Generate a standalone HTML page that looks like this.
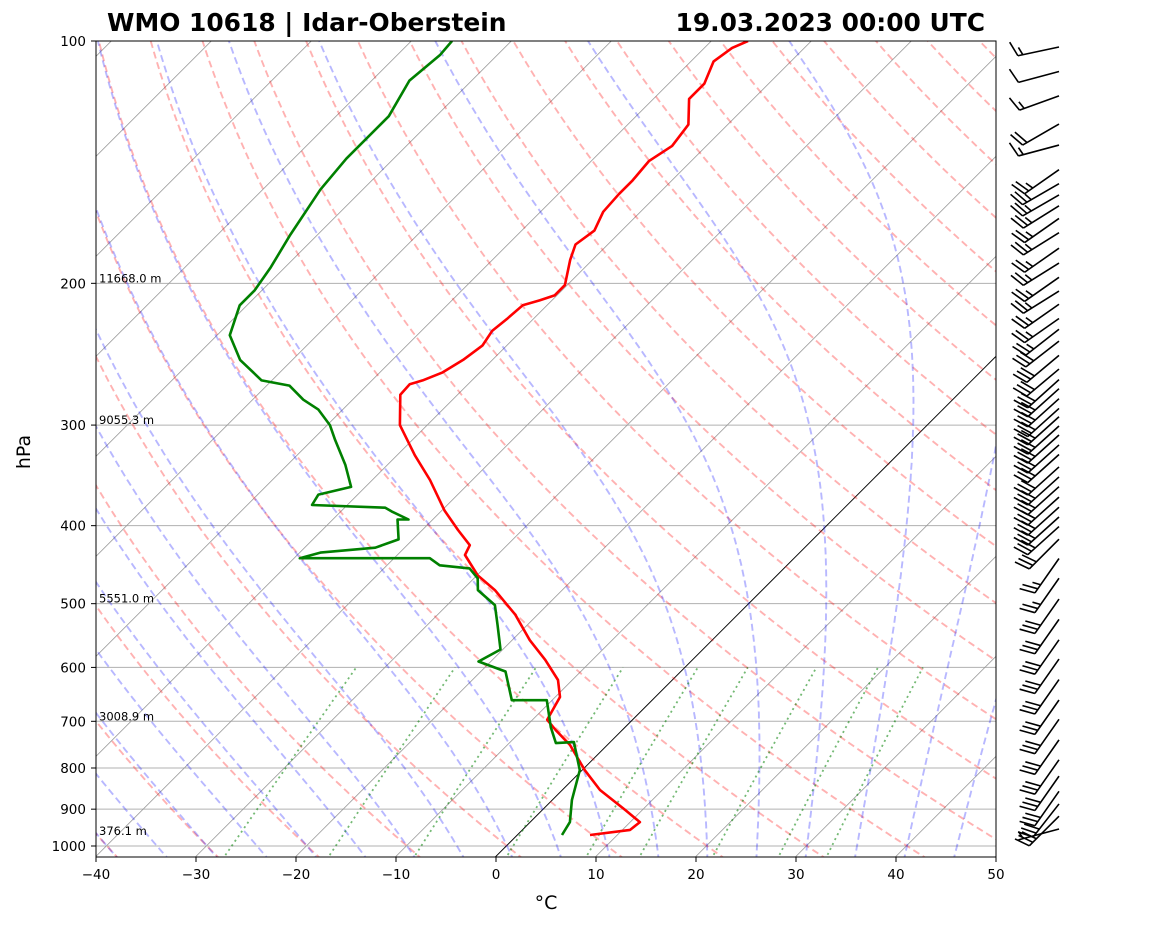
<!DOCTYPE html>
<html><head><meta charset="utf-8"><style>
body{margin:0;background:#fff}
svg text{font-family:"DejaVu Sans","Liberation Sans",sans-serif}
</style></head><body>
<svg id="chart" width="1160" height="925" viewBox="0 0 1160 925" xmlns="http://www.w3.org/2000/svg">
<defs><clipPath id="plotclip"><rect x="96" y="41" width="900" height="816"/></clipPath></defs>
<rect width="1160" height="925" fill="#fff"/>
<text x="107" y="31" font-size="24.9" font-weight="bold">WMO 10618 | Idar-Oberstein</text>
<text x="985" y="31" font-size="24.9" font-weight="bold" text-anchor="end">19.03.2023 00:00 UTC</text>
<g id="bg" clip-path="url(#plotclip)"></g>
<g id="prof" clip-path="url(#plotclip)"></g>
<g id="axes"></g>
<g id="barbs"></g>
<text transform="translate(30,452) rotate(-90)" font-size="19" text-anchor="middle">hPa</text>
<text x="546" y="909" font-size="19" text-anchor="middle">°C</text>
</svg>
<script>
const tempP=[969,955,934,902,852,805,749,718,697,653,622,587,555,516,481,461,435,423,405,383,351,327,300,275,267,264,258,249,239,229,221,213,210,207,201,187,179,172,163,155,149,141,135,127,118,113,106,102,100];
const tempT=[7.2,10.7,10.9,8.2,3.7,0.2,-3.8,-6.7,-8.6,-9.6,-11.5,-14.8,-18.3,-22.3,-26.8,-30,-33.3,-33.8,-36.5,-39.8,-44.3,-48.3,-52.8,-55.8,-55.9,-55,-53.8,-53,-52.5,-53,-52.7,-52.5,-51.3,-50.3,-50.3,-52.3,-53.3,-52.8,-53.8,-54,-54,-54.3,-53.5,-54,-56.5,-56.5,-57.8,-57.3,-56.4];
const dewP=[969,934,877,805,743,745,712,659,659,607,590,570,532,502,481,465,452,448,439,439,432,426,416,393,393,384,380,377,366,358,336,313,300,287,279,268,264,249,232,213,204,191,174,153,140,133,124,112,104,100];
const dewT=[4.4,3.9,1.9,-0.3,-3.7,-5.4,-7.5,-10.6,-14.1,-17.6,-21.3,-20.3,-23,-25.3,-28.5,-29.7,-31.5,-34.8,-36.5,-49.5,-48,-43,-41.5,-43.6,-42.5,-45,-46,-53.6,-54,-51.5,-54.3,-57.8,-59.8,-62.5,-65,-67.8,-71.1,-75.3,-78.8,-80.8,-80.8,-81.5,-82.8,-84.3,-84.8,-84.8,-84.8,-86.3,-85.8,-86];
const barbP=[103.5,111,119,129,137,147,153,158,163,169,176,184,192,200,208,216,225,232,240,250,260,268,275,283,291,298,306,314,323,332,344,354,364,375,386,397,408,423,447,473,502,532,564,596,632,670,708,751,795,833,870,902,934,969];
const barbDir=[258,255,250,240,255,235,240,240,238,235,238,235,238,235,238,235,235,232,232,230,230,228,228,228,228,228,228,228,228,228,228,228,228,228,228,228,228,225,215,215,215,215,215,215,215,215,215,215,215,215,215,218,225,255];
const barbSpd=[15,10,15,20,15,25,25,25,25,25,25,25,25,25,25,25,25,25,30,30,30,30,30,30,30,30,30,30,30,30,30,30,30,30,30,30,30,30,25,25,30,30,30,30,30,30,30,30,30,30,30,30,30,5];
const pressTicks=[100,200,300,400,500,600,700,800,900,1000];
const tempTicks=[-40,-30,-20,-10,0,10,20,30,40,50];
const hgtP=[200,300,500,700,969];
const hgtLbl=["11668.0 m","9055.3 m","5551.0 m","3008.9 m","376.1 m"];
const dryTheta=[-40,-30,-20,-10,0,10,20,30,40,50,60,70,80,90,100,110,120,130,140,150,160,170,180,190,200,210,220,230,240,250];
const moistT0=[-40,-35,-30,-25,-20,-15,-10,-5,0,5,10,15,20,25,30,35,40,45];
const mixW=[0.0004,0.001,0.002,0.004,0.007,0.01,0.016,0.024,0.032];
const isoT=[-150,-140,-130,-120,-110,-100,-90,-80,-70,-60,-50,-40,-30,-20,-10,10,20,30,40,50];

const NS='http://www.w3.org/2000/svg';
const yOf=p=>41+805*Math.log10(p/100);
const xOf=(T,p)=>96+10*(T+40)+(857-yOf(p));
function mk(tag,attrs,parent){const e=document.createElementNS(NS,tag);for(const k in attrs)e.setAttribute(k,attrs[k]);parent.appendChild(e);return e;}
function pathD(Ts,Ps){return Ts.map((t,i)=>(i?'L':'M')+xOf(t,Ps[i]).toFixed(1)+','+yOf(Ps[i]).toFixed(1)).join('');}
const bg=document.getElementById('bg'),prof=document.getElementById('prof'),ax=document.getElementById('axes'),bb=document.getElementById('barbs');

pressTicks.forEach(p=>{const l=mk('line',{x1:96,x2:996,y1:yOf(p),y2:yOf(p),stroke:'#b0b0b0','stroke-width':1},bg);

});
isoT.forEach(t=>{const l=mk('line',{x1:xOf(t,1034),y1:857,x2:xOf(t,1034)+1000,y2:-143,stroke:'#999','stroke-width':0.8},bg);

});
{const l=mk('line',{x1:xOf(0,1034),y1:857,x2:xOf(0,1034)+1000,y2:-143,stroke:'#000','stroke-width':0.9},bg);

}
const plev=[];for(let p=1040;p>=95;p-=5)plev.push(p);
dryTheta.forEach(th=>{const Ts=plev.map(p=>(th+273.15)*Math.pow(p/1000,0.2857)-273.15);
const e=mk('path',{d:pathD(Ts,plev),fill:'none',stroke:'rgba(255,0,0,0.3)','stroke-width':1.9,'stroke-dasharray':'7,4'},bg);

});
function es(tc){return 6.112*Math.exp(17.67*tc/(tc+243.5));}
function dTdp(T,p){const e=es(T-273.15);const rs=0.622*e/(p-e);return (287.04*T+2.501e6*rs)/(p*(1005.7+2.501e6*2.501e6*rs*0.622/(287.04*T*T)));}
function integ(T0,p0,p1,dp){const P=[p0],T=[T0];let T_=T0,p=p0;while((dp<0&&p>p1)||(dp>0&&p<p1)){const k1=dTdp(T_,p);const k2=dTdp(T_+k1*dp,p+dp);T_+=0.5*(k1+k2)*dp;p+=dp;P.push(p);T.push(T_);}return [T,P];}
moistT0.forEach(t0=>{const up=integ(t0+273.15,1000,95,-5),dn=integ(t0+273.15,1000,1045,5);
const Ps=dn[1].slice(1).reverse().concat(up[1]);const Ts=dn[0].slice(1).reverse().concat(up[0]).map(t=>t-273.15);
const e=mk('path',{d:pathD(Ts,Ps),fill:'none',stroke:'rgba(0,0,255,0.28)','stroke-width':1.9,'stroke-dasharray':'7,4'},bg);

});
const mlev=[];for(let p=1040;p>=600;p-=10)mlev.push(p);
mixW.forEach(w=>{const Ts=mlev.map(p=>{const e=w*p/(0.622+w);const l=Math.log(e/6.112);return 243.5*l/(17.67-l);});
const e=mk('path',{d:pathD(Ts,mlev),fill:'none',stroke:'rgba(0,128,0,0.55)','stroke-width':1.8,'stroke-dasharray':'2,3.5'},bg);

});
{const e=mk('path',{d:pathD(tempT,tempP),fill:'none',stroke:'#ff0000','stroke-width':2.6,'stroke-linejoin':'round'},prof);


const d=mk('path',{d:pathD(dewT,dewP),fill:'none',stroke:'#008000','stroke-width':2.6,'stroke-linejoin':'round'},prof);

}
hgtP.forEach((p,i)=>{const t=mk('text',{x:99,y:yOf(p)+(p>900?0:-1),'font-size':11.5},ax);t.textContent=hgtLbl[i];

});
{const r=mk('rect',{x:96,y:41,width:900,height:816,fill:'none',stroke:'#000','stroke-width':1},ax);

}
pressTicks.forEach(p=>{const y=yOf(p);mk('line',{x1:91,x2:96,y1:y,y2:y,stroke:'#000'},ax);
const t=mk('text',{x:86,y:y+5,'font-size':13.5,'text-anchor':'end'},ax);t.textContent=p;

});
tempTicks.forEach(T=>{const x=96+10*(T+40);mk('line',{x1:x,x2:x,y1:857,y2:862,stroke:'#000'},ax);
const t=mk('text',{x:x,y:879,'font-size':13.5,'text-anchor':'middle'},ax);t.textContent=T<0?'\u2212'+(-T):T;

});
barbP.forEach((p,i)=>{const X=1059,Y=yOf(p)-6,L=42,r=barbDir[i]*Math.PI/180;
const ux=Math.sin(r),uy=-Math.cos(r),px=-uy,py=ux;
const g=mk('g',{stroke:'#000','stroke-width':1.6,fill:'none'},bb);


const tx=X+ux*L,ty=Y+uy*L;
mk('line',{x1:X,y1:Y,x2:tx,y2:ty},g);
let s=barbSpd[i],k=0;const full=Math.floor(s/10),half=(s%10)>=5?1:0;
const drawB=(pos,len)=>{const bx=tx-ux*pos,by=ty-uy*pos;mk('line',{x1:bx,y1:by,x2:bx+px*len+ux*len*0.35,y2:by+py*len+uy*len*0.35},g);};
for(k=0;k<full;k++)drawB(k*5,15);
if(half)drawB((full===0?5:full*5),8);
});
</script>
</body></html>
